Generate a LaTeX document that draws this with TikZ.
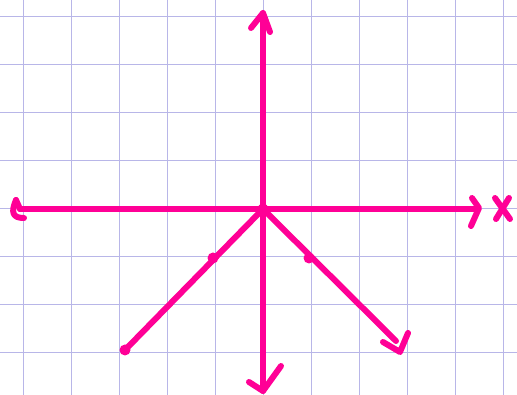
\documentclass[tikz,border=0pt]{standalone}
\definecolor{gridc}{RGB}{184,182,232}
\definecolor{pinkc}{RGB}{255,0,150}
\begin{document}
\begin{tikzpicture}[x=1pt,y=-1pt,
  gridline/.style={draw=gridc,line width=1pt},
  pen/.style={draw=pinkc,line width=6pt,line cap=round,line join=round},
  dotc/.style={fill=pinkc}]
\fill[white] (0,0) rectangle (517,395);
\useasboundingbox (0,0) rectangle (517,395);
% grid
\foreach \x in {23,71,119,167,215,263,311,359,407,455,503} {\draw[gridline] (\x,0) -- (\x,395);}
\foreach \y in {17,65,113,161,209,257,305,353} {\draw[gridline] (0,\y) -- (517,\y);}
% coordinates
\coordinate (O) at (263,209);
\coordinate (T) at (263,13);
\coordinate (B) at (263,391);
\coordinate (L) at (20,209);
\coordinate (R) at (478,209);
\coordinate (LL) at (125,350);
\coordinate (LR) at (396,341);
\coordinate (D1) at (213,258);
\coordinate (D2) at (309,258);
% axes
\draw[pen] (O) -- (T);
\draw[pen] (O) -- (B);
\draw[pen] (O) -- (L);
\draw[pen] (O) -- (R);
\draw[pen] (O) -- (LL);
\draw[pen] (O) -- (LR);
% top arrowhead
\draw[pen] (251,28) -- (T) -- (270,32);
% bottom arrowhead
\draw[pen] (249,382) -- (B) -- (281,366);
% right arrowhead
\draw[pen] (472,198) -- (479,208) -- (471,226);
% left hook
\draw[pen] (L) -- (16,200);
\draw[pen] (16,200) .. controls (11,212) and (12,218) .. (24,218);
% lower-right arrowhead
\draw[pen] (383,342) -- (400,352) -- (408,333);
% ends and dots
\fill[dotc] (LL) circle (5.5pt);
\fill[dotc] (O) circle (5.5pt);
\fill[dotc] (D1) circle (5.5pt);
\fill[dotc] (D2) circle (5.5pt);
% x label
\draw[pen] (495,198) -- (510,219);
\draw[pen] (509,198) -- (496,219);
\end{tikzpicture}
\end{document}
